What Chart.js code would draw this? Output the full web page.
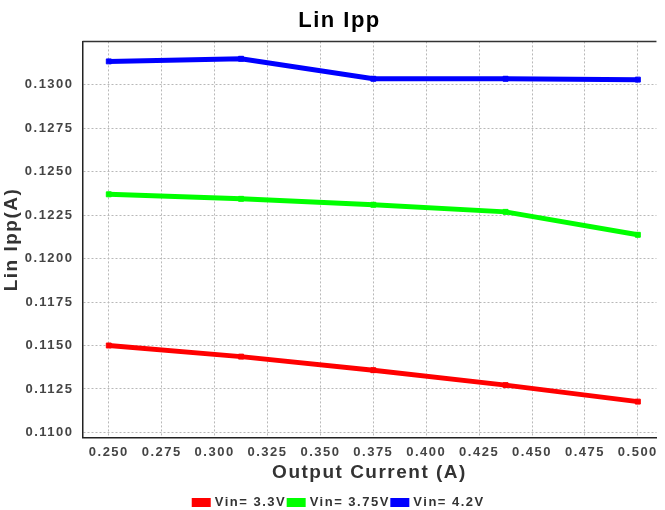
<!DOCTYPE html>
<html>
<head>
<meta charset="utf-8">
<script src="https://cdn.jsdelivr.net/npm/chart.js@4"></script>
<style>
    html, body { margin: 0; padding: 0; background: #fff; }
    #wrap { width: 665px; height: 510px; }
</style>
</head>
<body>
<div id="wrap"><canvas id="linChart"></canvas></div>
<script>
var currents = [0.25, 0.3125, 0.375, 0.4375, 0.5];
var vin33 = [0.11500, 0.11436, 0.11358, 0.11272, 0.11177];
var vin375 = [0.12370, 0.12344, 0.12310, 0.12269, 0.12137];
var vin42 = [0.13135, 0.13150, 0.13035, 0.13035, 0.13030];
var yTicks = [0.1100, 0.1125, 0.1150, 0.1175, 0.1200, 0.1225, 0.1250, 0.1275, 0.1300];
var xTicks = [0.250, 0.275, 0.300, 0.325, 0.350, 0.375, 0.400, 0.425, 0.450, 0.475, 0.500];

function points(values) {
    return currents.map(function (x, i) { return { x: x, y: values[i] }; });
}

function series(label, values, color) {
    return {
        label: label,
        data: points(values),
        borderColor: color,
        backgroundColor: color,
        borderWidth: 5,
        pointStyle: 'rect',
        pointRadius: 3.5,
        pointBorderWidth: 1,
        pointHoverRadius: 3.5,
        tension: 0
    };
}

// wider letter spacing, like the original export
var spacing = {
    id: 'spacing',
    beforeLayout: function (chart) { chart.ctx.letterSpacing = '1.5px'; },
    beforeDraw: function (chart) { chart.ctx.letterSpacing = '1.5px'; }
};

// top border of the plot box
var topBorder = {
    id: 'topBorder',
    afterDraw: function (chart) {
        var a = chart.chartArea, ctx = chart.ctx;
        ctx.save();
        ctx.strokeStyle = '#333';
        ctx.lineWidth = 1.5;
        ctx.beginPath();
        ctx.moveTo(a.left, a.top);
        ctx.lineTo(a.right, a.top);
        ctx.stroke();
        ctx.restore();
    }
};

var fam = 'Liberation Sans, Arial';
var tickFont = { family: fam, size: 13, weight: 'bold' };
var titleFont = { family: fam, size: 19, weight: 'bold' };
var grid = { color: '#b8b8b8', lineWidth: 1, drawTicks: false };

new Chart(document.getElementById('linChart'), {
    type: 'line',
    data: {
        datasets: [
            series('Vin= 3.3V', vin33, '#ff0000'),
            series('Vin= 3.75V', vin375, '#00ff00'),
            series('Vin= 4.2V', vin42, '#0000ff')
        ]
    },
    options: {
        responsive: true,
        maintainAspectRatio: false,
        animation: false,
        layout: { padding: { left: 0, right: -14, top: 0, bottom: -9 } },
        plugins: {
            title: {
                display: true,
                text: 'Lin Ipp',
                color: '#000',
                font: { family: fam, size: 22, weight: 'bold' },
                padding: { top: 8, bottom: 7 }
            },
            legend: {
                position: 'bottom',
                labels: {
                    color: '#333',
                    font: { family: fam, size: 13, weight: 'bold' },
                    boxWidth: 14,
                    boxHeight: 4,
                    padding: 3
                }
            },
            tooltip: { enabled: false }
        },
        scales: {
            x: {
                type: 'linear',
                min: 0.2376,
                max: 0.5088,
                afterBuildTicks: function (axis) {
                    axis.ticks = xTicks.map(function (v) { return { value: v }; });
                },
                ticks: {
                    color: '#444',
                    font: tickFont,
                    padding: 7,
                    maxRotation: 0,
                    autoSkip: false,
                    callback: function (v) { return v.toFixed(3); }
                },
                grid: grid,
                border: { color: '#222', width: 1.5, dash: [2, 2] },
                title: {
                    display: true,
                    text: 'Output Current (A)',
                    color: '#333',
                    font: titleFont,
                    padding: { top: -6, bottom: 9 }
                }
            },
            y: {
                min: 0.1097,
                max: 0.1325,
                afterBuildTicks: function (axis) {
                    axis.ticks = yTicks.map(function (v) { return { value: v }; });
                },
                ticks: {
                    color: '#444',
                    font: tickFont,
                    padding: 9,
                    autoSkip: false,
                    callback: function (v) { return v.toFixed(4); }
                },
                grid: grid,
                border: { color: '#222', width: 1.5, dash: [2, 2] },
                title: {
                    display: true,
                    text: 'Lin Ipp(A)',
                    color: '#333',
                    font: titleFont,
                    padding: { top: 0, bottom: -7 }
                }
            }
        }
    },
    plugins: [spacing, topBorder]
});
</script>
</body>
</html>
